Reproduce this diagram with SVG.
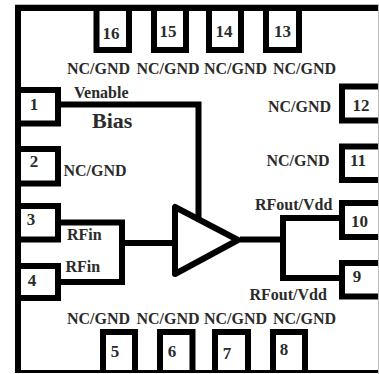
<svg xmlns="http://www.w3.org/2000/svg" width="379" height="374" viewBox="0 0 379 374">
<style>
text{font-family:"Liberation Serif","Times New Roman",serif;font-weight:bold;fill:#2b2b2b}
.l{font-size:16px}.n{font-size:17px;text-anchor:middle}.b{font-size:22px}
.p{fill:none;stroke:#000;stroke-width:6}
.w{fill:none;stroke:#000;stroke-width:6}
</style>
<rect width="379" height="374" fill="#fff"/>
<g id="package">
<path d="M15 4.500H378.500V374" fill="none" stroke="#bbb" stroke-width="1"/>
<path d="M18 371.500V8H378" fill="none" stroke="#000" stroke-width="6"/>
<path d="M15 371.500H378" fill="none" stroke="#000" stroke-width="3"/>
</g>
<g id="connectors">
<path class="w" d="M61 104.500H198.500V218"/>
<path class="w" d="M60 222.500H122V282H60"/>
<path class="w" d="M122 243H176"/>
<path class="w" d="M240 239.500H283"/>
<path class="w" d="M342 218H283V278H342"/>
</g>
<g id="amp"><path d="M175 207V274L238 240Z" fill="#fff" stroke="#000" stroke-width="6" stroke-linejoin="round"/></g>
<g id="pin16"><path class="p" d="M96.500 8V50H129V8"/><text class="n" x="111" y="39">16</text></g>
<g id="pin15"><path class="p" d="M154 8V50H186V8"/><text class="n" x="168" y="37">15</text></g>
<g id="pin14"><path class="p" d="M209 8V50H241V8"/><text class="n" x="224" y="37">14</text></g>
<g id="pin13"><path class="p" d="M266 8V50H299V8"/><text class="n" x="282.500" y="37">13</text></g>
<g id="pin1"><path class="p" d="M18 90H58V123.500H18"/><text class="n" x="34" y="110">1</text></g>
<g id="pin2"><path class="p" d="M18 149H58V183.500H18"/><text class="n" x="34" y="167">2</text></g>
<g id="pin3"><path class="p" d="M18 206H58V239.500H18"/><text class="n" x="31" y="225">3</text></g>
<g id="pin4"><path class="p" d="M18 266H58V298H18"/><text class="n" x="32" y="286">4</text></g>
<g id="pin12"><path class="p" d="M378 86.500H342V120.500H378"/><text class="n" x="361" y="111">12</text></g>
<g id="pin11"><path class="p" d="M378 146.500H342V180H378"/><text class="n" x="358" y="166">11</text></g>
<g id="pin10"><path class="p" d="M378 203H342V237H378"/><text class="n" x="359.500" y="227">10</text></g>
<g id="pin9"><path class="p" d="M378 263H342V296.500H378"/><text class="n" x="357" y="282">9</text></g>
<g id="pin5"><path class="p" d="M103 371V332H135V371"/><text class="n" x="115" y="357">5</text></g>
<g id="pin6"><path class="p" d="M160 371V332H192.500V371"/><text class="n" x="172" y="357">6</text></g>
<g id="pin7"><path class="p" d="M215 371V332H248V371"/><text class="n" x="227" y="359">7</text></g>
<g id="pin8"><path class="p" d="M273 371V332H305V371"/><text class="n" x="284" y="355">8</text></g>
<g id="labels">
<text class="l" x="67" y="74">NC/GND</text><text class="l" x="136.500" y="74">NC/GND</text><text class="l" x="204" y="74">NC/GND</text><text class="l" x="273" y="74">NC/GND</text>
<text class="l" x="74" y="98">Venable</text><text class="b" x="92" y="128">Bias</text>
<text class="l" x="63.500" y="176">NC/GND</text>
<text class="l" x="268" y="112">NC/GND</text><text class="l" x="266.500" y="166">NC/GND</text>
<text class="l" x="67" y="240">RFin</text><text class="l" x="65.500" y="272">RFin</text>
<text class="l" x="255" y="210">RFout/Vdd</text><text class="l" x="249.500" y="300">RFout/Vdd</text>
<text class="l" x="67" y="324">NC/GND</text><text class="l" x="136.500" y="324">NC/GND</text><text class="l" x="204" y="324">NC/GND</text><text class="l" x="273" y="324">NC/GND</text>
</g>
</svg>
